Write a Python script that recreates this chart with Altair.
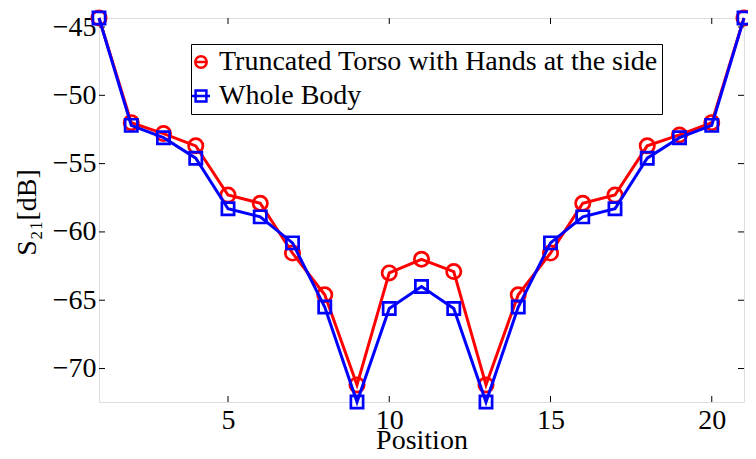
import altair as alt
import pandas as pd

positions = list(range(1, 22))
torso = [-44.34, -52.0, -52.8, -53.7, -57.3, -57.9, -61.55, -64.6, -71.2, -63.0, -62.0,
         -62.9, -71.2, -64.6, -61.55, -57.9, -57.3, -53.7, -52.9, -52.0, -44.34]
whole = [-44.34, -52.2, -53.1, -54.6, -58.3, -58.9, -60.8, -65.5, -72.45, -65.6, -64.0,
         -65.6, -72.45, -65.5, -60.8, -58.9, -58.3, -54.6, -53.1, -52.2, -44.34]
series_names = ["Truncated Torso with Hands at the side", "Whole Body"]
colors = ["#ff0000", "#0000ff"]
marker_shapes = ["circle", "square"]
marker_sizes = [205, 150]
legend_paths = ["M-0.95,0A0.95,0.95,0,1,1,0.95,0A0.95,0.95,0,1,1,-0.95,0ZM-0.95,0H0.95",
                "M-0.9,-0.9H0.9V0.9H-0.9ZM-1.5,0H1.5"]
x_ticks = [5, 10, 15, 20]
y_ticks = [-70, -65, -60, -55, -50, -45]

W, H = 645, 384
FONT = "'Times New Roman', 'Liberation Serif', 'DejaVu Serif', serif"
FS = 28

df = pd.DataFrame({
    "pos": positions * 2,
    "val": torso + whole,
    "series": [series_names[0]] * len(positions) + [series_names[1]] * len(positions),
})
xt = pd.DataFrame({"t": x_ticks})
yt = pd.DataFrame({"t": y_ticks})

x_scale = alt.Scale(domain=[1, 21], nice=False, zero=False)
y_scale = alt.Scale(domain=[-72.45, -44.34], nice=False, zero=False)

x_axis = alt.Axis(title="Position", values=x_ticks, ticks=False, domain=False, grid=False,
                  labelFont=FONT, labelFontSize=FS, labelColor="black", labelPadding=4,
                  titleFont=FONT, titleFontSize=FS, titleFontWeight="normal", titleColor="black",
                  titleY=46, titleBaseline="alphabetic")
y_axis = alt.Axis(title="S₂₁[dB]", values=y_ticks, ticks=False, domain=False, grid=False,
                  labelFont=FONT, labelFontSize=FS, labelColor="black", labelPadding=3,
                  titleFont=FONT, titleFontSize=FS, titleFontWeight="normal", titleColor="black",
                  titleX=-72, titleY=194, titleAngle=270, titleBaseline="middle", titleAlign="center")

legend = alt.Legend(
    title=None, orient="none", legendX=92, legendY=26,
    fillColor="white", strokeColor="black", padding=4,
    labelFont=FONT, labelFontSize=FS, labelColor="black", labelLimit=700,
    symbolSize=144, symbolStrokeWidth=2.5, rowPadding=6, labelOffset=4,
    symbolOffset=-8, symbolFillColor="transparent",
)

base = alt.Chart(df).encode(
    x=alt.X("pos:Q", scale=x_scale, axis=x_axis),
    y=alt.Y("val:Q", scale=y_scale, axis=y_axis),
)

layers = []
for name, col, shp, sz in zip(series_names, colors, marker_shapes, marker_sizes):
    sub = base.transform_filter(alt.datum.series == name)
    layers.append(sub.mark_line(strokeWidth=3, color=col))
    layers.append(sub.mark_point(filled=False, strokeWidth=2.7, size=sz, opacity=1,
                                 color=col, shape=shp))

legend_layer = base.transform_filter("false").mark_point(filled=False, opacity=1).encode(
    color=alt.Color("series:N", scale=alt.Scale(domain=series_names, range=colors), legend=legend),
    shape=alt.Shape("series:N", scale=alt.Scale(domain=series_names, range=legend_paths), legend=legend),
)

tick_len = 6
xb = alt.Chart(xt).mark_rule(color="black", strokeWidth=1).encode(
    x=alt.X("t:Q", scale=x_scale, axis=x_axis), y=alt.value(H), y2=alt.value(H - tick_len))
xtop = alt.Chart(xt).mark_rule(color="black", strokeWidth=1).encode(
    x=alt.X("t:Q", scale=x_scale, axis=x_axis), y=alt.value(0), y2=alt.value(tick_len))
yl = alt.Chart(yt).mark_rule(color="black", strokeWidth=1).encode(
    y=alt.Y("t:Q", scale=y_scale, axis=y_axis), x=alt.value(0), x2=alt.value(tick_len))
yr = alt.Chart(yt).mark_rule(color="black", strokeWidth=1).encode(
    y=alt.Y("t:Q", scale=y_scale, axis=y_axis), x=alt.value(W), x2=alt.value(W - tick_len))

chart = alt.layer(xb, xtop, yl, yr, *layers, legend_layer).properties(
    width=W, height=H,
    autosize=alt.AutoSizeParams(type="none"),
    padding={"left": 91, "top": 10, "right": 4, "bottom": 49},
).configure_view(stroke="black", strokeWidth=1.5).configure(background="white")

chart.save("out.html", embed_options={"renderer": "svg", "actions": False})
